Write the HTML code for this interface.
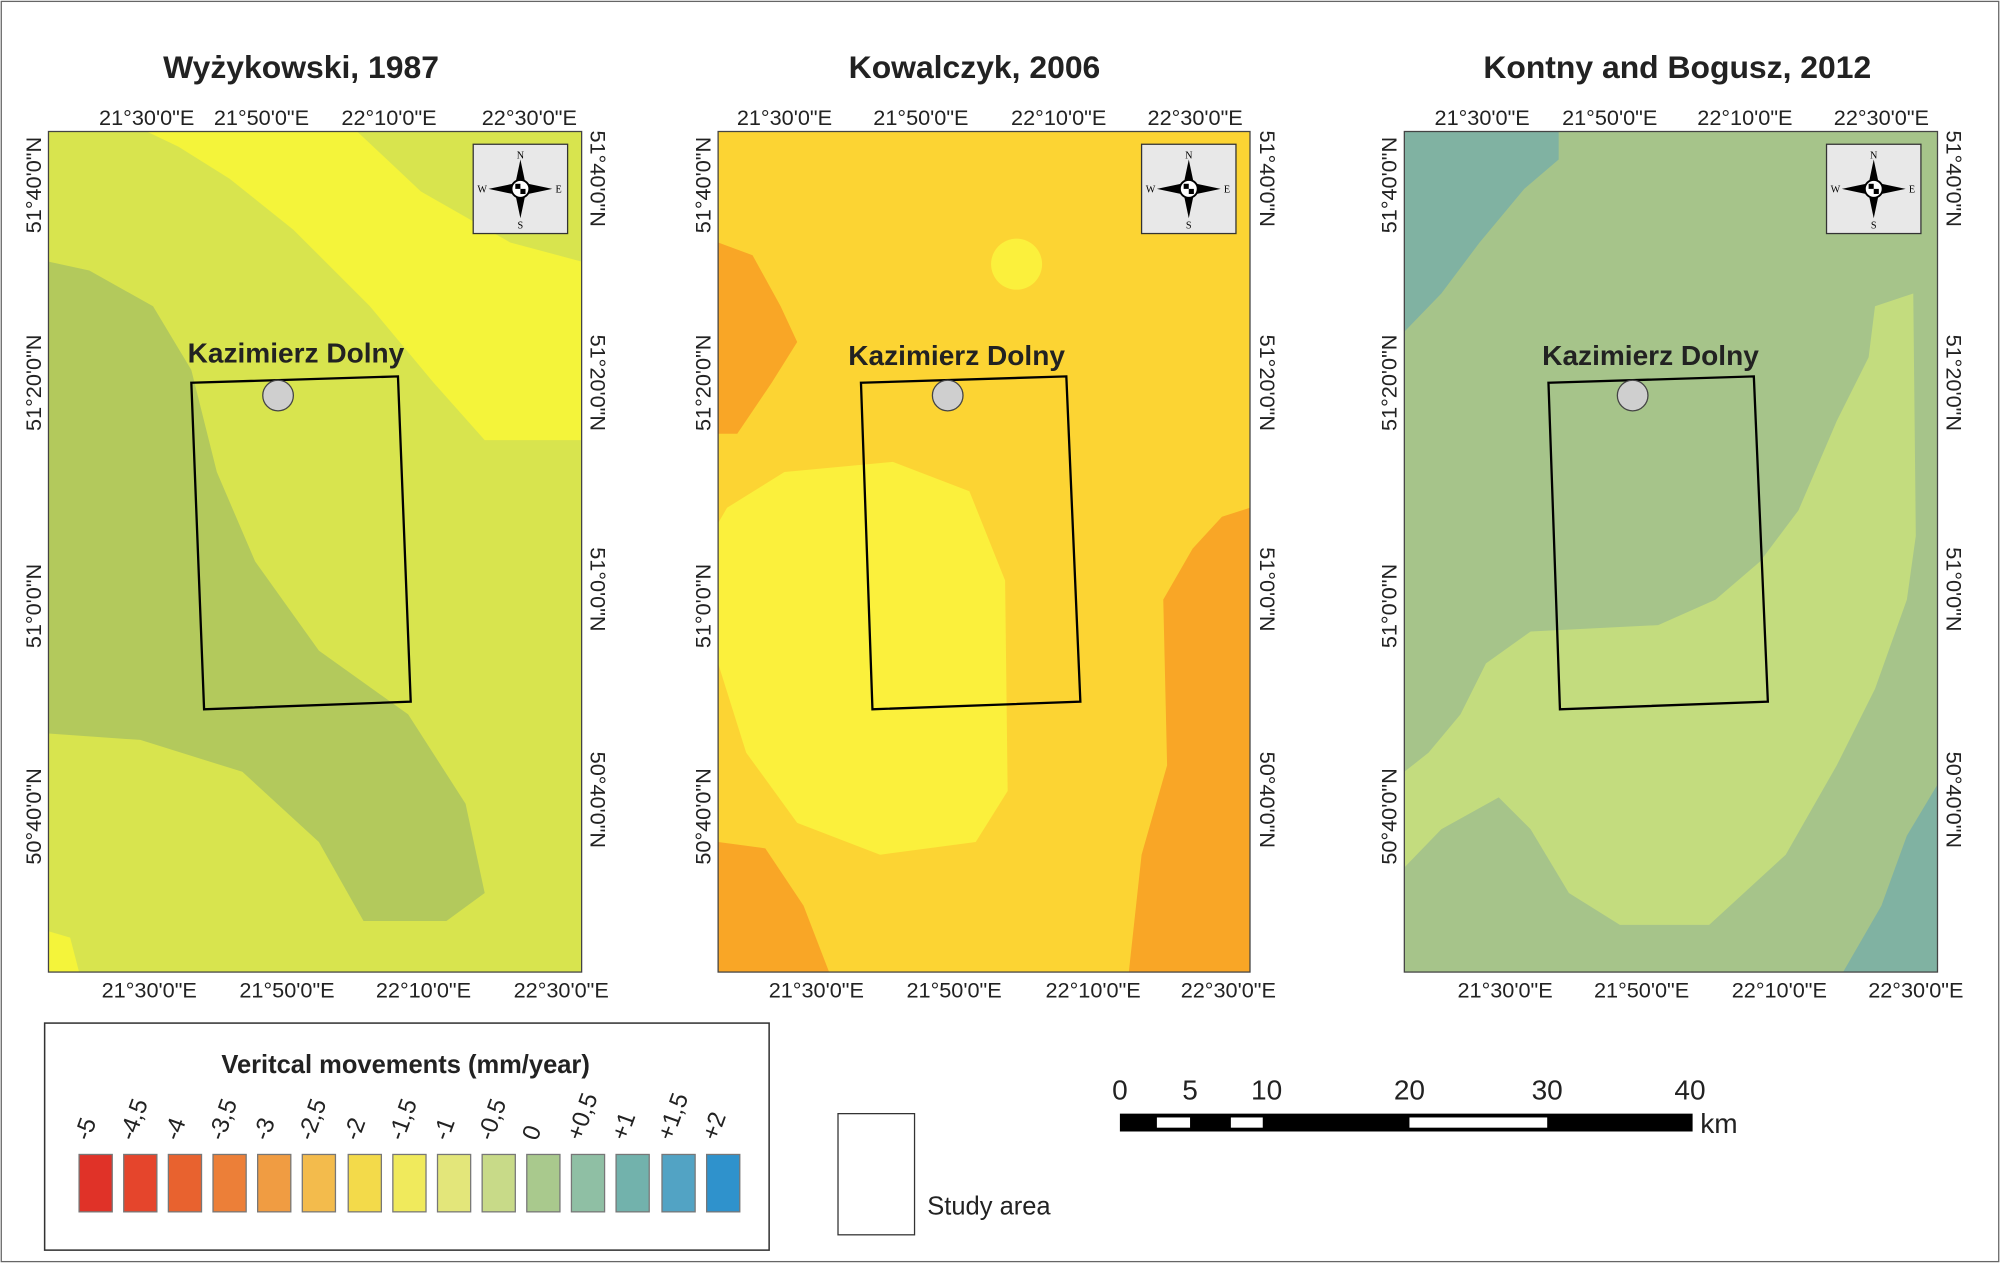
<!DOCTYPE html>
<html><head><meta charset="utf-8"><style>
html,body{margin:0;padding:0;background:#fff;}
svg{display:block;font-family:"Liberation Sans",Arial,sans-serif;}
</style></head><body>
<svg width="2000" height="1263" viewBox="0 0 1568 990" xmlns="http://www.w3.org/2000/svg">
<defs>
<g id="compass">
<rect x="0" y="0" width="74" height="70" fill="#e8e8e8" stroke="#333" stroke-width="1"/>
<polygon points="37,12 41,31 37,35 33,31" fill="#000"/>
<polygon points="37,58 41,39 37,35 33,39" fill="#000"/>
<polygon points="12,35 31,31 37,35 31,39" fill="#000"/>
<polygon points="62,35 43,31 37,35 43,39" fill="#000"/>
<circle cx="37" cy="35" r="7" fill="#fff" stroke="#000" stroke-width="1.5"/>
<rect x="33" y="31" width="4" height="4" fill="#000"/><rect x="37" y="35" width="4" height="4" fill="#000"/>
<text x="37" y="11" font-size="8" text-anchor="middle" font-family="Liberation Serif">N</text>
<text x="37" y="66" font-size="8" text-anchor="middle" font-family="Liberation Serif">S</text>
<text x="7" y="38" font-size="8" text-anchor="middle" font-family="Liberation Serif">W</text>
<text x="67" y="38" font-size="8" text-anchor="middle" font-family="Liberation Serif">E</text>
</g>
</defs>
<rect x="1" y="1" width="1566" height="988" fill="#fff" stroke="#666" stroke-width="1"/>

<!-- Panel 1 -->
<g>
<rect x="38" y="103" width="418" height="659" fill="#d8e44e"/>
<polygon points="115,103 280,103 330,150 400,190 456,205 456,345 380,345 340,300 290,240 230,180 180,140 140,115" fill="#f4f43a"/>
<polygon points="38,205 70,212 120,240 150,290 170,370 200,440 250,510 320,560 365,630 380,700 350,722 285,722 250,660 190,605 110,580 38,575" fill="#b3c95c"/>
<polygon points="38,730 55,735 62,762 38,762" fill="#f4f43a"/>
<rect x="38" y="103" width="418" height="659" fill="none" stroke="#444" stroke-width="1"/>
<text x="236" y="61" font-size="25" font-weight="bold" text-anchor="middle" fill="#222">Wyżykowski, 1987</text>
<g font-size="17" fill="#222" text-anchor="middle">
<text x="115" y="98">21°30'0"E</text><text x="205" y="98">21°50'0"E</text><text x="305" y="98">22°10'0"E</text><text x="415" y="98">22°30'0"E</text>
<text x="117" y="782">21°30'0"E</text><text x="225" y="782">21°50'0"E</text><text x="332" y="782">22°10'0"E</text><text x="440" y="782">22°30'0"E</text>
<text transform="translate(32,145) rotate(-90)">51°40'0"N</text><text transform="translate(32,300) rotate(-90)">51°20'0"N</text>
<text transform="translate(32,475) rotate(-90)">51°0'0"N</text><text transform="translate(32,640) rotate(-90)">50°40'0"N</text>
<text transform="translate(463,140) rotate(90)">51°40'0"N</text><text transform="translate(463,300) rotate(90)">51°20'0"N</text>
<text transform="translate(463,462) rotate(90)">51°0'0"N</text><text transform="translate(463,627) rotate(90)">50°40'0"N</text>
</g>
<use href="#compass" x="371" y="113"/>
<text x="232" y="284" font-size="22" font-weight="bold" text-anchor="middle" fill="#222">Kazimierz Dolny</text>
<polygon points="150,300 312,295 322,550 160,556" fill="none" stroke="#000" stroke-width="1.8"/>
<circle cx="218" cy="310" r="12" fill="#cfcfcf" stroke="#444"/>
</g>

<!-- Panel 2 -->
<g>
<rect x="563" y="103" width="417" height="659" fill="#fcd433"/>
<polygon points="563,190 590,200 612,240 625,268 605,300 578,340 563,340" fill="#f9a626"/>
<polygon points="563,660 600,665 630,710 650,762 563,762" fill="#f9a626"/>
<polygon points="980,398 958,405 935,430 912,470 915,600 895,670 885,762 980,762" fill="#f9a626"/>
<polygon points="570,398 615,370 700,362 760,385 788,455 790,620 765,660 690,670 625,645 585,590 563,520 563,410" fill="#fbf03c"/>
<circle cx="797" cy="207" r="20" fill="#fbf03c"/>
<rect x="563" y="103" width="417" height="659" fill="none" stroke="#444" stroke-width="1"/>
<text x="764" y="61" font-size="25" font-weight="bold" text-anchor="middle" fill="#222">Kowalczyk, 2006</text>
<g font-size="17" fill="#222" text-anchor="middle">
<text x="615" y="98">21°30'0"E</text><text x="722" y="98">21°50'0"E</text><text x="830" y="98">22°10'0"E</text><text x="937" y="98">22°30'0"E</text>
<text x="640" y="782">21°30'0"E</text><text x="748" y="782">21°50'0"E</text><text x="857" y="782">22°10'0"E</text><text x="963" y="782">22°30'0"E</text>
<text transform="translate(557,145) rotate(-90)">51°40'0"N</text><text transform="translate(557,300) rotate(-90)">51°20'0"N</text>
<text transform="translate(557,475) rotate(-90)">51°0'0"N</text><text transform="translate(557,640) rotate(-90)">50°40'0"N</text>
<text transform="translate(988,140) rotate(90)">51°40'0"N</text><text transform="translate(988,300) rotate(90)">51°20'0"N</text>
<text transform="translate(988,462) rotate(90)">51°0'0"N</text><text transform="translate(988,627) rotate(90)">50°40'0"N</text>
</g>
<use href="#compass" x="895" y="113"/>
<text x="750" y="286" font-size="22" font-weight="bold" text-anchor="middle" fill="#222">Kazimierz Dolny</text>
<polygon points="675,300 836,295 847,550 684,556" fill="none" stroke="#000" stroke-width="1.8"/>
<circle cx="743" cy="310" r="12" fill="#cfcfcf" stroke="#444"/>
</g>

<!-- Panel 3 -->
<g>
<rect x="1101" y="103" width="418" height="659" fill="#a6c48a"/>
<polygon points="1101,103 1222,103 1222,125 1195,148 1160,190 1130,230 1101,260" fill="#80b2a2"/>
<polygon points="1519,615 1495,655 1475,710 1445,762 1519,762" fill="#80b2a2"/>
<polygon points="1470,240 1500,230 1502,420 1495,470 1470,540 1440,600 1400,670 1340,725 1270,725 1230,700 1200,650 1175,625 1130,650 1101,680 1101,605 1120,590 1145,560 1165,520 1200,495 1300,490 1345,470 1380,440 1410,400 1440,330 1465,280" fill="#c3dc7e"/>
<rect x="1101" y="103" width="418" height="659" fill="none" stroke="#444" stroke-width="1"/>
<text x="1315" y="61" font-size="25" font-weight="bold" text-anchor="middle" fill="#222">Kontny and Bogusz, 2012</text>
<g font-size="17" fill="#222" text-anchor="middle">
<text x="1162" y="98">21°30'0"E</text><text x="1262" y="98">21°50'0"E</text><text x="1368" y="98">22°10'0"E</text><text x="1475" y="98">22°30'0"E</text>
<text x="1180" y="782">21°30'0"E</text><text x="1287" y="782">21°50'0"E</text><text x="1395" y="782">22°10'0"E</text><text x="1502" y="782">22°30'0"E</text>
<text transform="translate(1095,145) rotate(-90)">51°40'0"N</text><text transform="translate(1095,300) rotate(-90)">51°20'0"N</text>
<text transform="translate(1095,475) rotate(-90)">51°0'0"N</text><text transform="translate(1095,640) rotate(-90)">50°40'0"N</text>
<text transform="translate(1526,140) rotate(90)">51°40'0"N</text><text transform="translate(1526,300) rotate(90)">51°20'0"N</text>
<text transform="translate(1526,462) rotate(90)">51°0'0"N</text><text transform="translate(1526,627) rotate(90)">50°40'0"N</text>
</g>
<use href="#compass" x="1432" y="113"/>
<text x="1294" y="286" font-size="22" font-weight="bold" text-anchor="middle" fill="#222">Kazimierz Dolny</text>
<polygon points="1214,300 1375,295 1386,550 1223,556" fill="none" stroke="#000" stroke-width="1.8"/>
<circle cx="1280" cy="310" r="12" fill="#cfcfcf" stroke="#444"/>
</g>

<!-- Legend -->
<rect x="35" y="802" width="568" height="178" fill="#fff" stroke="#333" stroke-width="1.2"/>
<text x="318" y="841" font-size="20" font-weight="bold" text-anchor="middle" fill="#222">Veritcal movements (mm/year)</text>
<g font-size="19" fill="#222">
<text transform="translate(70,895) rotate(-70)">-5</text>
<text transform="translate(105,895) rotate(-70)">-4,5</text>
<text transform="translate(140,895) rotate(-70)">-4</text>
<text transform="translate(175,895) rotate(-70)">-3,5</text>
<text transform="translate(210,895) rotate(-70)">-3</text>
<text transform="translate(245,895) rotate(-70)">-2,5</text>
<text transform="translate(281,895) rotate(-70)">-2</text>
<text transform="translate(316,895) rotate(-70)">-1,5</text>
<text transform="translate(351,895) rotate(-70)">-1</text>
<text transform="translate(386,895) rotate(-70)">-0,5</text>
<text transform="translate(421,895) rotate(-70)">0</text>
<text transform="translate(456,895) rotate(-70)">+0,5</text>
<text transform="translate(491,895) rotate(-70)">+1</text>
<text transform="translate(527,895) rotate(-70)">+1,5</text>
<text transform="translate(562,895) rotate(-70)">+2</text>
</g>
<g stroke="#777" stroke-width="1">
<rect x="62" y="905" width="26" height="45" fill="#e03228"/>
<rect x="97" y="905" width="26" height="45" fill="#e5452c"/>
<rect x="132" y="905" width="26" height="45" fill="#e8622f"/>
<rect x="167" y="905" width="26" height="45" fill="#ec7f38"/>
<rect x="202" y="905" width="26" height="45" fill="#f09c42"/>
<rect x="237" y="905" width="26" height="45" fill="#f3bb4c"/>
<rect x="273" y="905" width="26" height="45" fill="#f3da4a"/>
<rect x="308" y="905" width="26" height="45" fill="#f0ea5c"/>
<rect x="343" y="905" width="26" height="45" fill="#e3e67a"/>
<rect x="378" y="905" width="26" height="45" fill="#c8da88"/>
<rect x="413" y="905" width="26" height="45" fill="#a9c98d"/>
<rect x="448" y="905" width="26" height="45" fill="#8fbfa4"/>
<rect x="483" y="905" width="26" height="45" fill="#72b2ac"/>
<rect x="519" y="905" width="26" height="45" fill="#52a3c4"/>
<rect x="554" y="905" width="26" height="45" fill="#2f92cc"/>
</g>

<!-- Study area -->
<rect x="657" y="873" width="60" height="95" fill="#fff" stroke="#333" stroke-width="1"/>
<text x="727" y="952" font-size="20" fill="#222">Study area</text>

<!-- Scale bar -->
<g font-size="22" fill="#222" text-anchor="middle">
<text x="878" y="862">0</text><text x="933" y="862">5</text><text x="993" y="862">10</text>
<text x="1105" y="862">20</text><text x="1213" y="862">30</text><text x="1325" y="862">40</text>
</g>
<rect x="878" y="873" width="449" height="14" fill="#000"/>
<rect x="907" y="876" width="26" height="8" fill="#fff"/>
<rect x="965" y="876" width="25" height="8" fill="#fff"/>
<rect x="1105" y="876" width="108" height="8" fill="#fff"/>
<text x="1333" y="888" font-size="22" fill="#222">km</text>
</svg>
</body></html>
